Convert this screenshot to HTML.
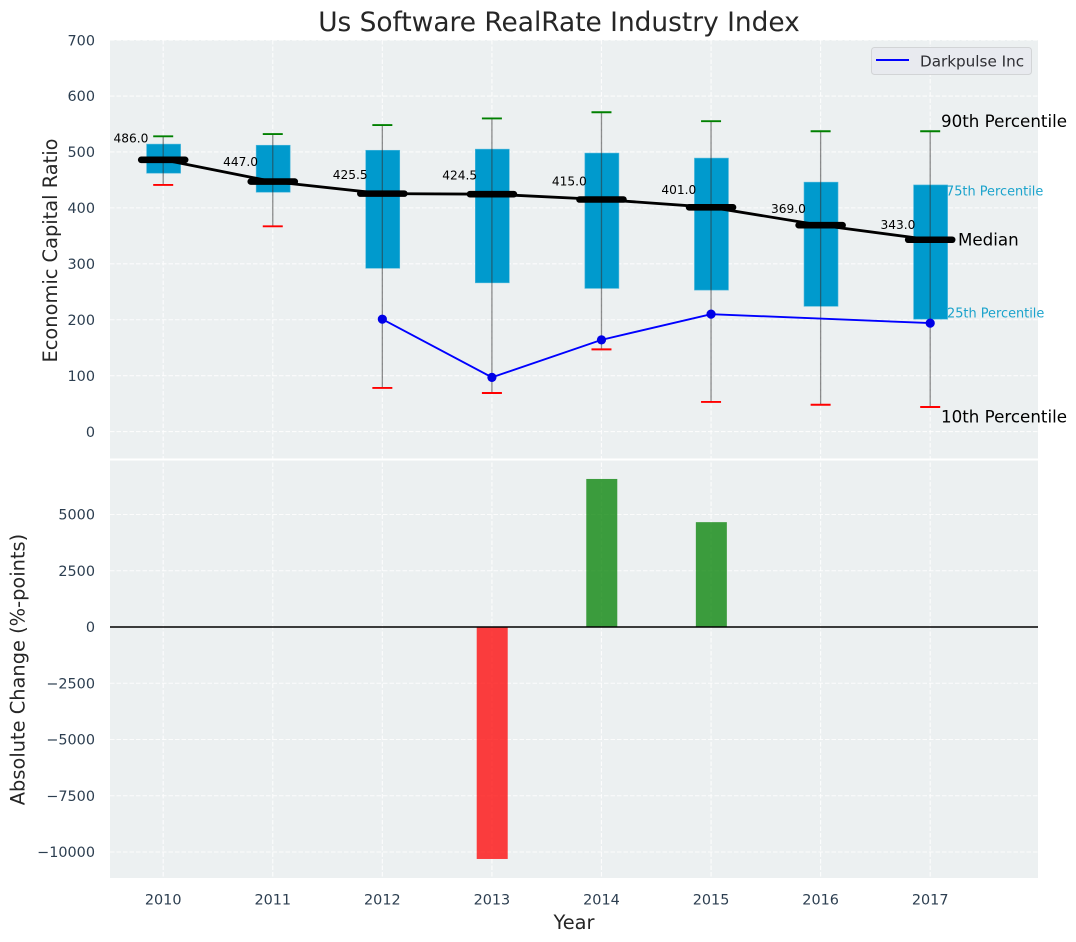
<!DOCTYPE html>
<html>
<head>
<meta charset="utf-8">
<title>Us Software RealRate Industry Index</title>
<style>
html,body{margin:0;padding:0;background:#fff;width:1076px;height:942px;overflow:hidden}
svg{display:block}
text{font-family:"DejaVu Sans","Liberation Sans",sans-serif}
</style>
</head>
<body>
<svg id="chart" xmlns="http://www.w3.org/2000/svg" width="1076" height="942" viewBox="0 0 1076 942">
  <rect x="0" y="0" width="1076" height="942" fill="#ffffff"/>
  <rect x="110" y="40" width="928" height="418.5" fill="#ecf0f1"/>
  <rect x="110" y="460.5" width="928" height="417.5" fill="#ecf0f1"/>
  <g id="grid"></g>
  <g id="bars"></g>
  <g id="boxes"></g>
  <g id="series"></g>
  <g id="labels"></g>
  <g id="ticks"></g>
  <line x1="110" x2="1038" y1="627" y2="627" stroke="#000" stroke-width="1.6"/>
  <text x="559" y="31" font-size="26.4" text-anchor="middle" fill="#262626">Us Software RealRate Industry Index</text>
  <text transform="translate(57 250.5) rotate(-90)" font-size="19.4" text-anchor="middle" fill="#262626">Economic Capital Ratio</text>
  <text transform="translate(24.5 669.5) rotate(-90)" font-size="19.4" text-anchor="middle" fill="#262626">Absolute Change (%-points)</text>
  <text x="574" y="929" font-size="19.4" text-anchor="middle" fill="#262626">Year</text>
  <text x="941" y="127" font-size="16.7" fill="#000">90th Percentile</text>
  <text x="946" y="195.5" font-size="12.9" fill="#1ba3cc">75th Percentile</text>
  <text x="958" y="245.5" font-size="16.7" fill="#000">Median</text>
  <text x="947" y="317.5" font-size="12.9" fill="#1ba3cc">25th Percentile</text>
  <text x="941" y="422.5" font-size="16.7" fill="#000">10th Percentile</text>
  <g>
    <rect x="871.5" y="47.5" width="160" height="27" rx="3" fill="#e8eaef" stroke="#d2d4d6" stroke-width="1"/>
    <line x1="876" x2="909" y1="60" y2="60" stroke="#0000ff" stroke-width="2"/>
    <text x="920" y="66.5" font-size="15.2" fill="#2e2e33">Darkpulse Inc</text>
  </g>
</svg>
<script>
const years = [2010, 2011, 2012, 2013, 2014, 2015, 2016, 2017];
const p90 = [528, 532, 548, 560, 571, 555, 537, 537];
const p75 = [514, 512, 503, 505, 498, 489, 446, 441];
const medians = [486, 447, 425.5, 424.5, 415, 401, 369, 343];
const p25 = [462, 428, 292, 266, 256, 253, 224, 201];
const p10 = [441, 367, 78, 69, 147, 53, 48, 44];
const companyYears = [2012, 2013, 2014, 2015, 2017];
const companyValues = [201, 97, 164, 210, 194];
const changeYears = [2013, 2014, 2015];
const changeValues = [-10310, 6580, 4660];
const topTicks = [0, 100, 200, 300, 400, 500, 600, 700];
const bottomTicks = [-10000, -7500, -5000, -2500, 0, 2500, 5000];

const NS = 'http://www.w3.org/2000/svg';
const xPos = y => 163.2 + (y - 2010) * 109.57;
const yTop = v => 431.6 - v * 0.5593;
const yBot = v => 627 - v * 0.0225;
const $ = id => document.getElementById(id);

function make(tag, attrs, parent) {
  const el = document.createElementNS(NS, tag);
  for (const k in attrs) el.setAttribute(k, attrs[k]);
  parent.appendChild(el);
  return el;
}
const gridStyle = {stroke: '#ffffff', 'stroke-width': 1.1, 'stroke-dasharray': '4.5 2', opacity: 0.85};

years.forEach(y => {
  const g = make('line', {x1: xPos(y), x2: xPos(y), y1: 40, y2: 878, ...gridStyle}, $('grid'));
  
  
  const t = make('text', {x: xPos(y), y: 904.5, 'font-size': 14.4, 'text-anchor': 'middle', fill: '#2c3e50'}, $('ticks'));
  t.textContent = y;
  
  
});
topTicks.forEach(v => {
  const g = make('line', {x1: 110, x2: 1038, y1: yTop(v), y2: yTop(v), ...gridStyle}, $('grid'));
  
  
  const t = make('text', {x: 95, y: yTop(v) + 5.2, 'font-size': 14.4, 'text-anchor': 'end', fill: '#2c3e50'}, $('ticks'));
  t.textContent = v;
  
  
});
bottomTicks.forEach(v => {
  const g = make('line', {x1: 110, x2: 1038, y1: yBot(v), y2: yBot(v), ...gridStyle}, $('grid'));
  
  
  const t = make('text', {x: 95, y: yBot(v) + 5.2, 'font-size': 14.4, 'text-anchor': 'end', fill: '#2c3e50'}, $('ticks'));
  t.textContent = (v < 0 ? '\u2212' : '') + Math.abs(v);
  
  
});

changeYears.forEach((y, i) => {
  const v = changeValues[i];
  const r = make('rect', {
    x: xPos(y) - 15.2, width: 31,
    y: Math.min(yBot(v), yBot(0)), height: Math.abs(yBot(v) - yBot(0)),
    fill: v < 0 ? '#ff0000' : '#008000', opacity: 0.75
  }, $('bars'));
  
  
});

years.forEach((y, i) => {
  const x = xPos(y);
  const b = make('rect', {
    x: x - 16.6, width: 34, y: yTop(p75[i]), height: yTop(p25[i]) - yTop(p75[i]),
    fill: '#009acd', stroke: '#4db8dc', 'stroke-width': 0.6
  }, $('boxes'));
  
  
  const w = make('line', {x1: x, x2: x, y1: yTop(p90[i]), y2: yTop(p10[i]), stroke: '#333', 'stroke-width': 1.3, opacity: 0.55}, $('boxes'));
  
  
  const hi = make('line', {x1: x - 10, x2: x + 10, y1: yTop(p90[i]), y2: yTop(p90[i]), stroke: '#008000', 'stroke-width': 1.9}, $('boxes'));
  
  
  const lo = make('line', {x1: x - 10, x2: x + 10, y1: yTop(p10[i]), y2: yTop(p10[i]), stroke: '#ff0000', 'stroke-width': 1.9}, $('boxes'));
  
  
});

const medianPath = make('polyline', {
  points: years.map((y, i) => xPos(y) + ',' + yTop(medians[i])).join(' '),
  fill: 'none', stroke: '#000', 'stroke-width': 2.8
}, $('series'));



years.forEach((y, i) => {
  const x = xPos(y), v = yTop(medians[i]);
  const m = make('line', {x1: x - 22, x2: x + 22, y1: v, y2: v, stroke: '#000', 'stroke-width': 6.6, 'stroke-linecap': 'round'}, $('series'));
  
  
  const t = make('text', {x: x - 32.2, y: yTop(medians[i] * 1.08) + 4.5, 'font-size': 12.2, 'text-anchor': 'middle', fill: '#000'}, $('labels'));
  t.textContent = medians[i].toFixed(1);
  
  
});

const companyLine = make('polyline', {
  points: companyYears.map((y, i) => xPos(y) + ',' + yTop(companyValues[i])).join(' '),
  fill: 'none', stroke: '#0000ff', 'stroke-width': 1.9
}, $('series'));



companyYears.forEach((y, i) => {
  const c = make('circle', {cx: xPos(y), cy: yTop(companyValues[i]), r: 4.6, fill: '#0000e6'}, $('series'));
  
  
});
</script>
</body>
</html>
